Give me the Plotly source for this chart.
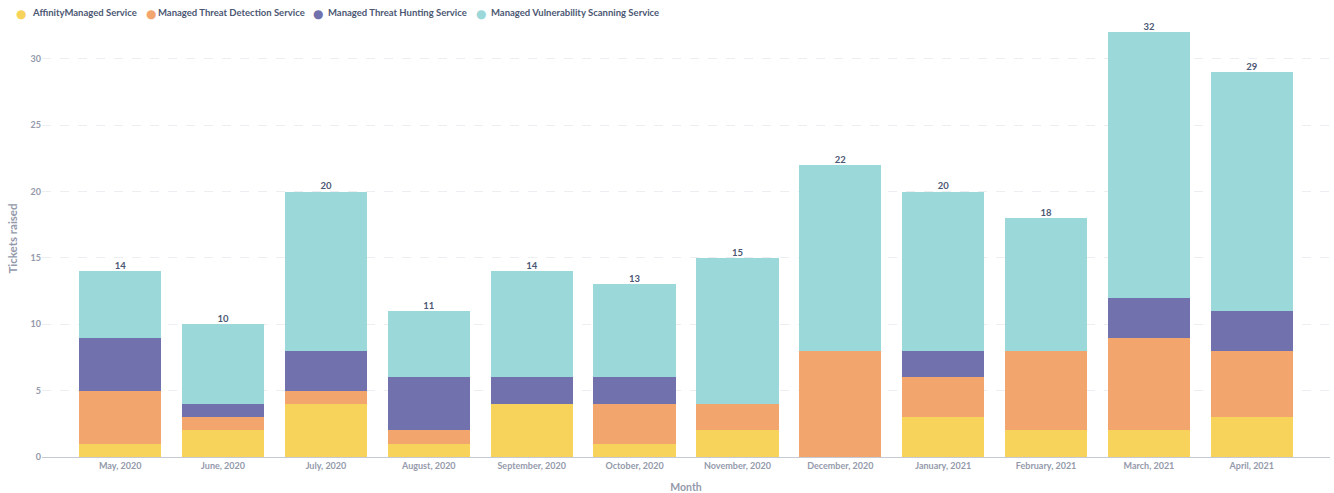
import plotly.graph_objects as go

months = ["May, 2020", "June, 2020", "July, 2020", "August, 2020", "September, 2020",
          "October, 2020", "November, 2020", "December, 2020", "January, 2021",
          "February, 2021", "March, 2021", "April, 2021"]

affinity = [1, 2, 4, 1, 4, 1, 2, 0, 3, 2, 2, 3]
detection = [4, 1, 1, 1, 0, 3, 2, 8, 3, 6, 7, 5]
hunting = [4, 1, 3, 4, 2, 2, 0, 0, 2, 0, 3, 3]
vulnerability = [5, 6, 12, 5, 8, 7, 11, 14, 12, 10, 20, 18]

series_names = ["AffinityManaged Service", "Managed Threat Detection Service",
                "Managed Threat Hunting Service", "Managed Vulnerability Scanning Service"]
series_colors = ["#F7D35C", "#F2A66E", "#7172AD", "#9AD8D9"]
series_values = [affinity, detection, hunting, vulnerability]

totals = [a + b + c + d for a, b, c, d in zip(affinity, detection, hunting, vulnerability)]

W, H = 1334, 493
M = dict(l=42, r=4, t=20, b=36)
PLOT_W = W - M["l"] - M["r"]
PLOT_H = H - M["t"] - M["b"]


def paper_x(px):
    return (px - M["l"]) / PLOT_W


def paper_y(py):
    return (H - M["b"] - py) / PLOT_H


FONT = "Lato, 'Open Sans', sans-serif"
LABEL = "#4C5773"
MUTED = "#949AAB"

fig = go.Figure()

for name, vals, color in zip(series_names, series_values, series_colors):
    fig.add_trace(go.Bar(x=months, y=vals, name=name, marker_color=color,
                         marker_line_width=0, showlegend=False))

fig.add_trace(go.Scatter(x=months, y=totals, mode="text", text=[str(t) for t in totals],
                         textposition="top center", showlegend=False, hoverinfo="skip",
                         cliponaxis=False,
                         textfont=dict(family=FONT, size=9.5, color=LABEL, weight="bold")))

# compact legend row along the top edge
dot_centers = [20.5, 150.5, 318, 481]
text_starts = [30.5, 157, 327, 490]
annotations = []
for name, color, cx, tx in zip(series_names, series_colors, dot_centers, text_starts):
    annotations.append(dict(xref="paper", yref="paper", x=paper_x(cx), y=paper_y(14),
                            xanchor="center", yanchor="middle", showarrow=False, text="●",
                            font=dict(family="DejaVu Sans", size=12, color=color)))
    annotations.append(dict(xref="paper", yref="paper", x=paper_x(tx), y=paper_y(13),
                            xanchor="left", yanchor="middle", showarrow=False, text=name,
                            xshift=-1,
                            font=dict(family=FONT, size=9.5, color=LABEL, weight="bold")))

fig.update_layout(
    width=W, height=H,
    barmode="stack", bargap=0.2,
    plot_bgcolor="white", paper_bgcolor="white",
    margin=M, showlegend=False,
    font=dict(family=FONT, color=MUTED),
    annotations=annotations,
    xaxis=dict(range=[-0.76, 11.76], showgrid=False, showline=True, linecolor="#C5C9D3",
               linewidth=1, ticks="", automargin=False,
               tickfont=dict(size=9, color=MUTED, weight="bold"),
               title=dict(text="Month", font=dict(size=10.5, color=MUTED, weight="bold"),
                          standoff=14)),
    yaxis=dict(range=[0, 32.93], dtick=5, showgrid=True, gridcolor="#ECEEF2", griddash="dash",
               zeroline=False, showline=False, ticks="", automargin=False,
               tickfont=dict(size=9, color=MUTED, weight="bold"),
               title=dict(text="Tickets raised", font=dict(size=11.5, color=MUTED, weight="bold"),
                          standoff=10)),
)

fig.write_html("out.html")
